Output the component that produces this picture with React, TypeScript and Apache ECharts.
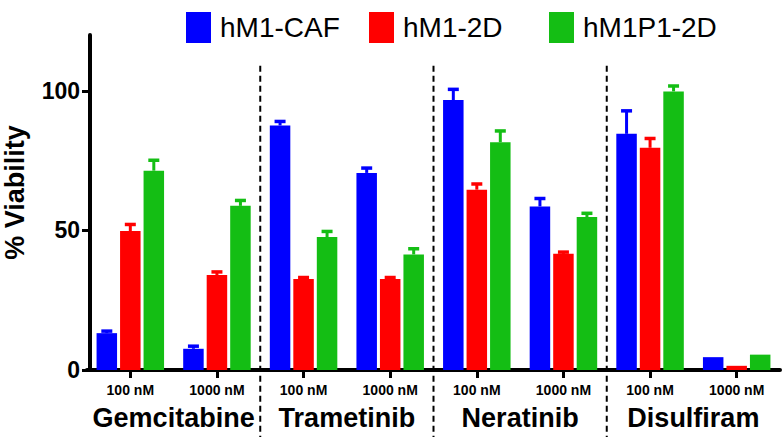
import React, { useEffect, useRef } from "react";
import * as echarts from "echarts";

const concentrations = ["100 nM", "1000 nM", "100 nM", "1000 nM", "100 nM", "1000 nM", "100 nM", "1000 nM"];
const drugs = ["Gemcitabine", "Trametinib", "Neratinib", "Disulfiram"];
const seriesNames = ["hM1-CAF", "hM1-2D", "hM1P1-2D"];
const colors = ["#0000FF", "#FF0000", "#14BE14"];

// mean values
const caf = [13.2, 7.6, 87.6, 70.6, 96.7, 58.6, 84.6, 4.6];
const d2 = [49.8, 34.0, 32.6, 32.6, 64.6, 41.6, 79.6, 1.5];
const p1 = [71.4, 58.8, 47.6, 41.4, 81.6, 54.8, 99.8, 5.5];
// error bar tops (mean + SEM)
const cafErr = [14.2, 8.8, 89.3, 72.6, 100.8, 61.7, 93.1, 4.6];
const d2Err = [52.4, 35.4, 33.4, 33.4, 66.9, 42.5, 83.2, 1.5];
const p1Err = [75.4, 61.0, 49.9, 43.7, 85.9, 56.4, 102.0, 5.5];

const yTicks = [0, 50, 100];
const separatorsAfter = [1, 3, 5];
const legendLefts = [181, 364, 544];

const FONT = "Liberation Sans, Arial, Helvetica, sans-serif";
const BAR_W = 20.5;
const BAR_GAP = 3;

export default function App() {
  const ref = useRef<HTMLDivElement>(null);
  useEffect(() => {
    if (!ref.current) return;
    const chart = echarts.init(ref.current, null, { renderer: "svg" });
    const means = [caf, d2, p1];
    const errs = [cafErr, d2Err, p1Err];

    const barSeries = seriesNames.map((name, k) => ({
      name,
      type: "bar",
      xAxisIndex: 0,
      data: means[k],
      barWidth: BAR_W,
      barGap: (BAR_GAP / BAR_W) * 100 + "%",
      itemStyle: { color: colors[k] },
      z: 2,
    }));

    const errSeries = seriesNames.map((name, k) => ({
      name: name + "-err",
      type: "custom",
      xAxisIndex: 0,
      z: 3,
      silent: true,
      data: means[k].map((v, i) => [i, v, errs[k][i]]),
      renderItem: (params: any, api: any) => {
        const x = api.value(0);
        const v = api.value(1);
        const t = api.value(2);
        if (!(t > v)) return null;
        const base = api.coord([x, v]);
        const top = api.coord([x, t]);
        const cx = base[0] + (k - 1) * (BAR_W + BAR_GAP);
        return {
          type: "group",
          children: [
            { type: "rect", shape: { x: cx - 1.5, y: top[1], width: 3, height: base[1] - top[1] }, style: { fill: colors[k] } },
            { type: "rect", shape: { x: cx - 5.5, y: top[1] - 1, width: 11, height: 3.5 }, style: { fill: colors[k] } },
          ],
        };
      },
    }));

    const sepSeries = {
      type: "custom",
      xAxisIndex: 0,
      silent: true,
      z: 1,
      clip: false,
      data: separatorsAfter.map((i) => [i, 109, -24]),
      renderItem: (params: any, api: any) => {
        const i = api.value(0);
        const half = api.size([1, 0])[0] / 2;
        const a = api.coord([i, api.value(1)]);
        const b = api.coord([i, api.value(2)]);
        const x = a[0] + half;
        return {
          type: "line",
          shape: { x1: x, y1: a[1], x2: x, y2: b[1] },
          style: { stroke: "#000", lineWidth: 2, lineDash: [6, 4] },
        };
      },
    };

    const legends = seriesNames.map((name, k) => ({
      data: [name],
      left: legendLefts[k],
      top: 7,
      itemWidth: 25,
      itemHeight: 31,
      icon: "rect",
      selectedMode: false,
      textStyle: { fontSize: 28, color: "#000", fontFamily: FONT, padding: [0, 0, 0, 4] },
    }));

    chart.setOption({
      animation: false,
      backgroundColor: "#fff",
      textStyle: { fontFamily: FONT },
      legend: legends,
      grid: { left: 87, right: 2, top: 35, bottom: 72, containLabel: false, outerBoundsMode: "none" },
      xAxis: [
        {
          type: "category",
          data: concentrations,
          position: "bottom",
          axisLine: { show: true, onZero: false, lineStyle: { color: "#000", width: 4 } },
          axisTick: { show: true, alignWithLabel: true, length: 8, lineStyle: { color: "#000", width: 3 } },
          axisLabel: { color: "#000", fontSize: 14, fontWeight: "bold", fontFamily: FONT, margin: 13, interval: 0 },
          splitLine: { show: false },
        },
        {
          type: "category",
          data: drugs,
          position: "bottom",
          axisLine: { show: false },
          axisTick: { show: false },
          axisLabel: { color: "#000", fontSize: 27, fontWeight: "bold", fontFamily: FONT, margin: 34, interval: 0, hideOverlap: false },
          splitLine: { show: false },
        },
      ],
      yAxis: {
        type: "value",
        min: 0,
        max: 120,
        interval: 50,
        offset: -3,
        name: "% Viability",
        nameLocation: "middle",
        nameGap: 62,
        nameTextStyle: { color: "#000", fontSize: 27, fontWeight: "bold", fontFamily: FONT, padding: [0, 0, 0, 20] },
        axisLine: { show: true, lineStyle: { color: "#000", width: 4 } },
        axisTick: { show: true, length: 8, customValues: yTicks, lineStyle: { color: "#000", width: 3 } },
        axisLabel: { color: "#000", fontSize: 23, fontWeight: "bold", fontFamily: FONT, margin: 10, customValues: yTicks },
        splitLine: { show: false },
      },
      series: [...barSeries, ...errSeries, sepSeries],
    });
    return () => chart.dispose();
  }, []);
  return <div ref={ref} style={{ width: 782, height: 442, position: "fixed", left: 0, top: 0 }} />;
}
